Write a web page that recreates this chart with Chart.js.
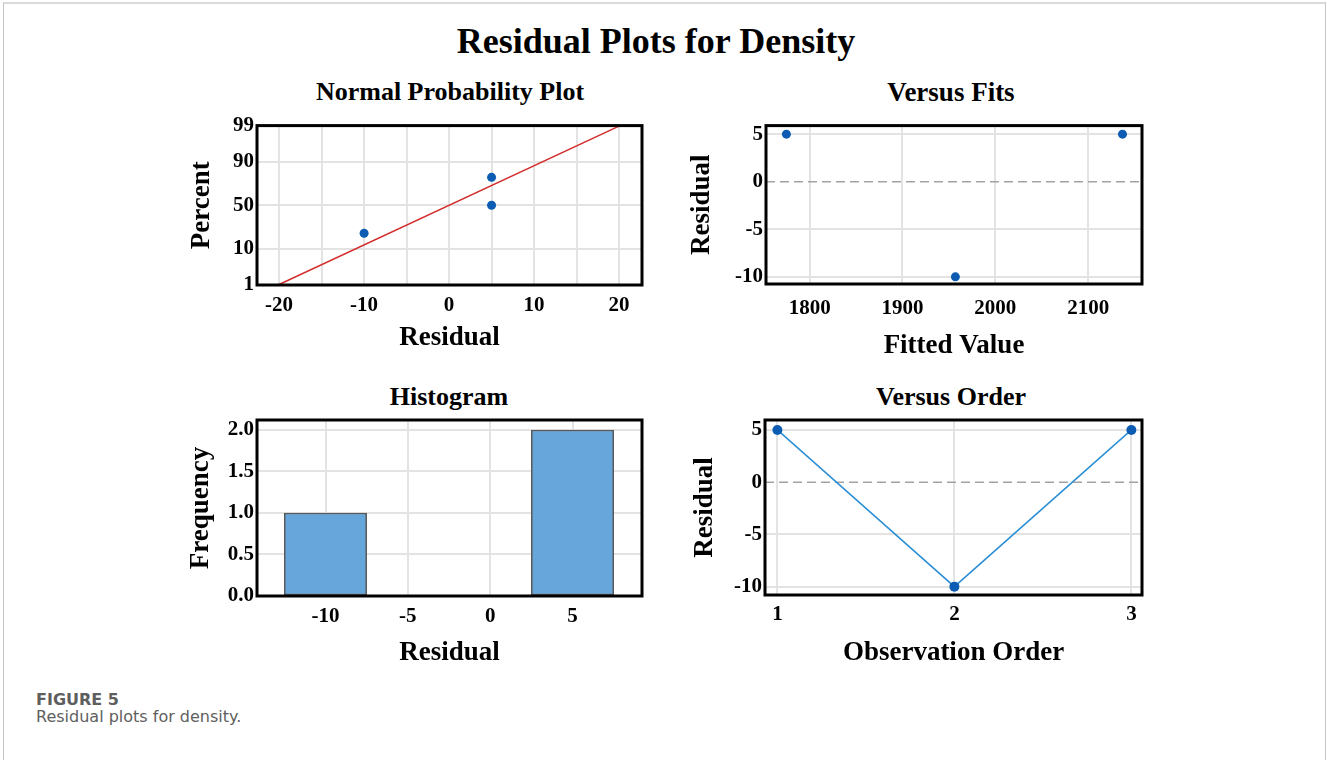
<!DOCTYPE html>
<html>
<head>
<meta charset="utf-8">
<script src="https://cdn.jsdelivr.net/npm/chart.js@4.4.1/dist/chart.umd.min.js"></script>
<style>
  body { margin: 0; background: #fff; width: 1327px; height: 760px; position: relative; overflow: hidden; }
  .frame { position: absolute; left: 3px; top: 2px; width: 1321px; height: 800px;
           border-top: 2px solid #dadada; border-left: 1px solid #c4c4c4; border-right: 1px solid #c4c4c4; }
  .t { position: absolute; font-family: "Liberation Serif", serif; font-weight: bold; line-height: 1;
       white-space: nowrap; transform: translateX(-50%); color: #000; }
  .cap { position: absolute; left: 36px; font-family: "DejaVu Sans", sans-serif; line-height: 1; color: #5e5e5e; white-space: nowrap; }
  canvas { position: absolute; }
</style>
</head>
<body>
<div class="frame"></div>
<div class="t" style="left:656px; top:23px; font-size:36px;">Residual Plots for Density</div>
<div class="t" style="left:450px; top:79px; font-size:26px;">Normal Probability Plot</div>
<div class="t" style="left:951px; top:79px; font-size:27px;">Versus Fits</div>
<div class="t" style="left:449px; top:384px; font-size:26px;">Histogram</div>
<div class="t" style="left:951px; top:384px; font-size:26px;">Versus Order</div>

<canvas id="npp" width="490" height="270" style="left:170px; top:110px;"></canvas>
<canvas id="fits" width="490" height="270" style="left:670px; top:110px;"></canvas>
<canvas id="hist" width="490" height="285" style="left:170px; top:395px;"></canvas>
<canvas id="order" width="490" height="285" style="left:670px; top:395px;"></canvas>

<div class="cap" style="top:692px; font-size:16px; font-weight:bold;">FIGURE 5</div>
<div class="cap" style="top:709px; font-size:16px;">Residual plots for density.</div>

<script>
// Normal probability plot
var nppResidual = [-10, 5, 5];
var nppPercent = [20.6, 50, 79.4];
var fitLineResidual = [-20, 20];
var fitLinePercent = [1, 99];
var nppResidualTicks = [-20, -15, -10, -5, 0, 5, 10, 15, 20];
var percentTicks = [1, 10, 50, 90, 99];

// Versus fits
var fittedValues = [1775, 1957, 2137];
var fitsResidual = [5, -10, 5];
var fittedTicks = [1800, 1900, 2000, 2100];
var residualTicks = [-10, -5, 0, 5];

// Histogram
var binCenters = [-10, -5, 0, 5];
var binFrequency = [1, 0, 0, 2];
var histResidualTicks = [-10, -5, 0, 5];
var frequencyTicks = [0, 0.5, 1, 1.5, 2];

// Versus order
var observationOrder = [1, 2, 3];
var orderResidual = [5, -10, 5];
var orderTicks = [1, 2, 3];

// inverse normal cdf, used for the probability (percent) axis
function probit(p) {
  var a = [-3.969683028665376e+01, 2.209460984245205e+02, -2.759285104469687e+02, 1.383577518672690e+02, -3.066479806614716e+01, 2.506628277459239e+00];
  var b = [-5.447609879822406e+01, 1.615858368580409e+02, -1.556989798598866e+02, 6.680131188771972e+01, -1.328068155288572e+01];
  var c = [-7.784894002430293e-03, -3.223964580411365e-01, -2.400758277161838e+00, -2.549732539343734e+00, 4.374664141464968e+00, 2.938163982698783e+00];
  var d = [7.784695709041462e-03, 3.224671290700398e-01, 2.445134137142996e+00, 3.754408661907416e+00];
  var plow = 0.02425, q, r;
  if (p < plow) {
    q = Math.sqrt(-2 * Math.log(p));
    return (((((c[0]*q+c[1])*q+c[2])*q+c[3])*q+c[4])*q+c[5]) / ((((d[0]*q+d[1])*q+d[2])*q+d[3])*q+1);
  }
  if (p > 1 - plow) {
    q = Math.sqrt(-2 * Math.log(1 - p));
    return -(((((c[0]*q+c[1])*q+c[2])*q+c[3])*q+c[4])*q+c[5]) / ((((d[0]*q+d[1])*q+d[2])*q+d[3])*q+1);
  }
  q = p - 0.5; r = q * q;
  return (((((a[0]*r+a[1])*r+a[2])*r+a[3])*r+a[4])*r+a[5])*q / (((((b[0]*r+b[1])*r+b[2])*r+b[3])*r+b[4])*r+1);
}

function pairs(xs, ys) {
  return xs.map(function (x, i) { return { x: x, y: ys[i] }; });
}
function fixedTicks(values) {
  return function (s) { s.ticks = values.map(function (v) { return { value: v }; }); };
}

Chart.defaults.font.family = "'Liberation Serif', serif";
Chart.defaults.color = '#000';

var GRID = '#e3e3e3';
var tickFont = { family: "'Liberation Serif', serif", size: 21, weight: 'bold' };
var titleFont = { family: "'Liberation Serif', serif", size: 27, weight: 'bold' };

// thick black box round the plot area
var framePlugin = {
  id: 'frame',
  afterDatasetsDraw: function (chart) {
    var a = chart.chartArea, ctx = chart.ctx;
    ctx.save();
    ctx.strokeStyle = '#000';
    ctx.lineWidth = 3;
    ctx.strokeRect(a.left, a.top, a.right - a.left, a.bottom - a.top);
    ctx.restore();
  }
};

// dashed reference line at residual 0
var zeroLinePlugin = {
  id: 'zeroLine',
  beforeDatasetsDraw: function (chart, args, opts) {
    if (!opts.show) return;
    var a = chart.chartArea, ctx = chart.ctx;
    var y = chart.scales.y.getPixelForValue(0);
    ctx.save();
    ctx.strokeStyle = '#a3a3a3';
    ctx.lineWidth = 1.5;
    ctx.setLineDash([9, 5]);
    ctx.beginPath();
    ctx.moveTo(a.left, y);
    ctx.lineTo(a.right, y);
    ctx.stroke();
    ctx.restore();
  }
};
Chart.register(framePlugin, zeroLinePlugin);

function axisX(cfg) {
  return {
    type: 'linear', min: cfg.min, max: cfg.max, offset: false,
    grid: { color: GRID, lineWidth: 2, drawTicks: false, offset: false },
    border: { display: false },
    ticks: { autoSkip: false, maxRotation: 0, padding: cfg.pad, font: tickFont, color: '#000', callback: cfg.label },
    title: { display: true, text: cfg.title, font: titleFont, color: '#000', padding: { top: 0, bottom: cfg.titlePad } },
    afterBuildTicks: cfg.build,
    afterFit: function (s) { s.height = cfg.size; }
  };
}

function axisY(cfg) {
  return {
    type: 'linear', min: cfg.min, max: cfg.max,
    grid: { color: function (c) { return cfg.zero && c.tick && c.tick.value === 0 ? 'rgba(0,0,0,0)' : GRID; },
            lineWidth: 2, drawTicks: false },
    border: { display: false },
    ticks: { autoSkip: false, padding: 3, font: tickFont, color: '#000', callback: cfg.label },
    title: { display: true, text: cfg.title, font: titleFont, color: '#000', padding: { top: cfg.titlePad, bottom: 0 } },
    afterBuildTicks: cfg.build,
    afterFit: function (s) { s.width = cfg.size; }
  };
}

function baseOptions(top, zero) {
  return {
    responsive: false,
    animation: false,
    layout: { padding: { top: top, right: 18, left: 0, bottom: 0 } },
    plugins: { legend: { display: false }, tooltip: { enabled: false }, zeroLine: { show: zero } }
  };
}

function plain(v) { return String(v); }

// Normal Probability Plot
var nppOpts = baseOptions(13, false);
nppOpts.scales = {
  x: axisX({ min: -22.6, max: 22.7, pad: 8, size: 95, title: 'Residual', titlePad: 26,
             build: fixedTicks(nppResidualTicks),
             label: function (v) { return v % 10 === 0 ? String(v) : ''; } }),
  y: axisY({ min: -2.34, max: 2.34, size: 87, title: 'Percent', titlePad: 16,
             build: fixedTicks(percentTicks.map(function (p) { return probit(p / 100); })),
             label: function (v, i) { return String(percentTicks[i]); } })
};
new Chart(document.getElementById('npp'), {
  type: 'scatter',
  data: {
    datasets: [
      { data: fitLineResidual.map(function (x, i) { return { x: x, y: probit(fitLinePercent[i] / 100) }; }),
        showLine: true, borderColor: '#d42b2b', borderWidth: 1.5, pointRadius: 0 },
      { data: nppResidual.map(function (x, i) { return { x: x, y: probit(nppPercent[i] / 100) }; }),
        pointRadius: 4.5, pointBackgroundColor: '#0b5cb2', pointBorderWidth: 0 }
    ]
  },
  options: nppOpts
});

// Versus Fits
var fitsOpts = baseOptions(13, true);
fitsOpts.scales = {
  x: axisX({ min: 1753, max: 2158, pad: 12, size: 96, title: 'Fitted Value', titlePad: 18,
             build: fixedTicks(fittedTicks), label: plain }),
  y: axisY({ min: -10.75, max: 5.9, size: 96, title: 'Residual', titlePad: 16, zero: true,
             build: fixedTicks(residualTicks), label: plain })
};
new Chart(document.getElementById('fits'), {
  type: 'scatter',
  data: { datasets: [
    { data: pairs(fittedValues, fitsResidual), pointRadius: 4.5, pointBackgroundColor: '#0b5cb2', pointBorderWidth: 0 }
  ] },
  options: fitsOpts
});

// Histogram
var histOpts = baseOptions(25, false);
histOpts.scales = {
  x: axisX({ min: -14.16, max: 9.22, pad: 8, size: 84, title: 'Residual', titlePad: 11,
             build: fixedTicks(histResidualTicks), label: plain }),
  y: axisY({ min: 0, max: 2.12, size: 87, title: 'Frequency', titlePad: 15,
             build: fixedTicks(frequencyTicks), label: function (v) { return v.toFixed(1); } })
};
new Chart(document.getElementById('hist'), {
  type: 'bar',
  data: { datasets: [
    { data: pairs(binCenters, binFrequency), backgroundColor: '#66a6da', borderColor: '#5a5a5a',
      borderWidth: 1.5, borderSkipped: false, barPercentage: 1, categoryPercentage: 1 }
  ] },
  options: histOpts
});

// Versus Order
var orderOpts = baseOptions(25, true);
orderOpts.scales = {
  x: axisX({ min: 0.93, max: 3.06, pad: 7, size: 85, title: 'Observation Order', titlePad: 11,
             build: fixedTicks(orderTicks), label: plain }),
  y: axisY({ min: -10.8, max: 5.95, size: 95, title: 'Residual', titlePad: 19, zero: true,
             build: fixedTicks(residualTicks), label: plain })
};
new Chart(document.getElementById('order'), {
  type: 'scatter',
  data: { datasets: [
    { data: pairs(observationOrder, orderResidual), showLine: true, borderColor: '#2b8fd6', borderWidth: 1.5,
      pointRadius: 5, pointBackgroundColor: '#0b5cb2', pointBorderWidth: 0 }
  ] },
  options: orderOpts
});
</script>
</body>
</html>
